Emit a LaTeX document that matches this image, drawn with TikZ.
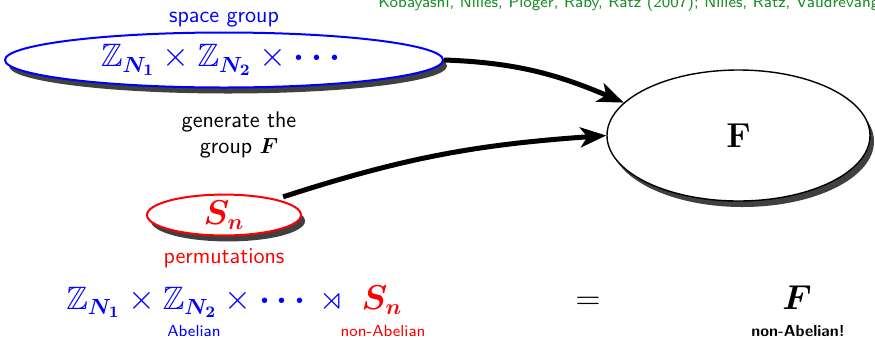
\documentclass[tikz,border=0pt]{standalone}
\usepackage{amsmath,amssymb,bm}
\usetikzlibrary{shapes.geometric,shadows,arrows.meta}
\definecolor{citegreen}{rgb}{0.1,0.55,0.15}
\newcommand{\mathsz}{\fontsize{16.2}{19}\selectfont}
\tikzset{
  grp/.style={ellipse, draw, fill=white, inner sep=0pt,
    drop shadow={shadow xshift=2pt, shadow yshift=-3pt, fill=black!75, opacity=1}},
  sanslbl/.style={font=\fontsize{11.3}{13}\selectfont\sffamily, inner sep=0pt},
  sublbl/.style={font=\fontsize{8}{9.6}\selectfont\sffamily, inner sep=0pt},
  gen/.style={line width=2.5pt, -{Stealth[length=13pt,width=10pt,inset=3.5pt]}},
}
\begin{document}
\begin{tikzpicture}[x=0.5pt,y=0.5pt]
\useasboundingbox (0,0) rectangle (875,-339);

% reference line
\node[sublbl, text=citegreen, anchor=base west] (cite) at (378,-7)
  {Kobayashi, Nilles, Pl\"oger, Raby, Ratz (2007); Nilles, Ratz, Vaudrevange};

% the three groups
\node[grp, draw=blue, line width=1pt, minimum width=219pt, minimum height=27.5pt] (sg) at (224,-60)
  {\mathsz$\color{blue}\mathbb{Z}_{\bm{N_1}}\times\mathbb{Z}_{\bm{N_2}}\times\bm{\cdots}$};
\node[grp, draw=red, line width=1pt, minimum width=77pt, minimum height=20pt] (sn) at (224,-215)
  {\mathsz$\color{red}\bm{S_n}$};
\node[grp, draw=black, line width=0.7pt, minimum width=131.5pt, minimum height=65.5pt] (F) at (738.5,-135.5)
  {\fontsize{19}{22}\selectfont$\mathbf{F}$};

% labels
\node[sanslbl, text=blue, anchor=base] (sglbl) at (224,-22) {space group};
\node[sanslbl, anchor=base] (gen1) at (239,-127) {generate the};
\node[sanslbl, anchor=base] (gen2) at (239,-153) {group $\bm{F}$};
\node[sanslbl, text=red, anchor=base] (snlbl) at (224,-263) {permutations};

% generating arrows
\draw[gen] ([shift={(2pt,1.5pt)}]sn.north east) to[out=18,in=184] (F.180);
\draw[gen] (sg.east) to[out=-2,in=157] (F.164);

% bottom formula
\node[anchor=base west, inner sep=0pt] (prod) at (66,-309)
  {\mathsz$\color{blue}\mathbb{Z}_{\bm{N_1}}\times\mathbb{Z}_{\bm{N_2}}\times\bm{\cdots}\,\rtimes\;\color{red}\bm{S_n}$};
\node[anchor=base, inner sep=0pt] (eq) at (588,-309) {\mathsz$=$};
\node[anchor=base, inner sep=0pt] (Fb) at (797,-309) {\mathsz$\bm{F}$};
\node[sublbl, text=blue, anchor=base] (ab) at (194,-336) {Abelian};
\node[sublbl, text=red, anchor=base] (nab) at (383,-336) {non-Abelian};
\node[sublbl, font=\fontsize{8}{9.6}\selectfont\sffamily\bfseries, anchor=base] (nabF) at (798,-336) {non-Abelian!};
\end{tikzpicture}
\end{document}
